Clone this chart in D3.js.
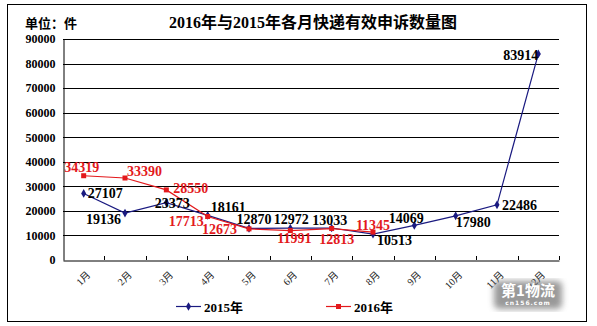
<!DOCTYPE html>
<html><head><meta charset="utf-8">
<script src="https://cdn.jsdelivr.net/npm/d3@7"></script>
<style>body{margin:0;background:#fff}svg{display:block}</style>
</head><body><svg id="c" width="597" height="326"></svg>
<script>
const months = ["1月","2月","3月","4月","5月","6月","7月","8月","9月","10月","11月","12月"];
const v2015 = [27107,19136,23373,18161,12870,12972,13033,10513,14069,17980,22486,83914];
const v2016 = [34319,33390,28550,17713,12673,11991,12813,11345];
const yTicks = [0,10000,20000,30000,40000,50000,60000,70000,80000,90000];
const seriesNames = ["2015年","2016年"];
const titleText = "2016年与2015年各月快递有效申诉数量图";
const unitText = "单位：件";
// label placement: [anchor, dx, dy]
const lab2015 = [["start",4,5],["end",-4,11],["middle",6,5],["start",3,-3],["middle",5,-4],["middle",1,-4],["middle",-2,-3],["start",4,11],["middle",-8,-2],["start",0,11],["start",5,5],["end",0,6]];
const lab2016 = [["middle",-2,-4],["start",2,-2],["start",7,3],["end",-4,9],["end",-12,5],["middle",4,12],["middle",5,15],["middle",0,-2]];

const svg = d3.select("#c");
const serif = "'Liberation Serif','Noto Sans CJK SC',serif";
const L=63, R=559, T=39, B=260;
const x = d3.scaleBand().domain(months).range([L,R]);
const y = d3.scaleLinear().domain([0,90000]).range([B,T]);
const cx = m => x(m)+x.bandwidth()/2;

svg.append("rect").attr("x",7.5).attr("y",4.5).attr("width",579).attr("height",317).attr("fill","none").attr("stroke","#000");

svg.append("text").attr("x",25).attr("y",28).attr("font-family",serif).attr("font-weight","bold").attr("font-size",13).text(unitText);
svg.append("text").attr("x",313).attr("y",28).attr("text-anchor","middle").attr("font-family",serif).attr("font-weight","bold").attr("font-size",16).text(titleText);

// gridlines
svg.append("g").selectAll("line").data(yTicks.filter(d=>d>0)).join("line")
  .attr("x1",L).attr("x2",R).attr("y1",d=>Math.round(y(d))+0.5).attr("y2",d=>Math.round(y(d))+0.5).attr("stroke","#000");
// y axis
const ya = svg.append("g").attr("transform",`translate(${L+0.5},0)`).call(d3.axisLeft(y).tickValues(yTicks).tickSize(0).tickPadding(8).tickFormat(d3.format("d")));
ya.select(".domain").attr("stroke","#000");
ya.selectAll("text").attr("font-family",serif).attr("font-weight","bold").attr("font-size",12).attr("fill","#000");
// x axis
const xa = svg.append("g").attr("transform",`translate(0,${B+0.5})`).call(d3.axisBottom(x).tickSize(0).tickFormat(""));
xa.select(".domain").attr("stroke","#000");
svg.append("g").selectAll("line").data(months.map((m,i)=>i+1)).join("line")
  .attr("x1",i=>Math.round(L+i*x.bandwidth())+0.5).attr("x2",i=>Math.round(L+i*x.bandwidth())+0.5)
  .attr("y1",B-4).attr("y2",B).attr("stroke","#000");
svg.append("g").selectAll("text").data(months).join("text")
  .attr("transform",m=>`translate(${cx(m)+5},${B+13}) rotate(-45)`)
  .attr("text-anchor","end").attr("dy","0.35em").attr("font-family",serif).attr("font-size",10).attr("fill","#222").text(d=>d);

// lines
const blue="#1a1a80", red="#e3191c";
const line = d3.line().x(d=>cx(d.m)).y(d=>y(d.v));
const d15 = v2015.map((v,i)=>({m:months[i],v}));
const d16 = v2016.map((v,i)=>({m:months[i],v}));
svg.append("path").datum(d15).attr("d",line).attr("fill","none").attr("stroke",blue).attr("stroke-width",1.2);
svg.append("path").datum(d16).attr("d",line).attr("fill","none").attr("stroke",red).attr("stroke-width",1.2);
const diamond = d3.symbol().type(d3.symbolDiamond).size(22);
svg.append("g").selectAll("path").data(d15).join("path").attr("d",diamond)
  .attr("transform",d=>`translate(${cx(d.m)},${y(d.v)})`).attr("fill",blue);
svg.append("g").selectAll("rect").data(d16).join("rect")
  .attr("x",d=>cx(d.m)-2.5).attr("y",d=>y(d.v)-2.5).attr("width",5).attr("height",5).attr("fill",red);

// labels
svg.append("g").selectAll("text").data(d15).join("text")
  .attr("x",(d,i)=>cx(d.m)+lab2015[i][1]).attr("y",(d,i)=>y(d.v)+lab2015[i][2])
  .attr("text-anchor",(d,i)=>lab2015[i][0]).attr("font-family",serif).attr("font-weight","bold").attr("font-size",14).attr("fill","#000").text(d=>d.v);
svg.append("g").selectAll("text").data(d16).join("text")
  .attr("x",(d,i)=>cx(d.m)+lab2016[i][1]).attr("y",(d,i)=>y(d.v)+lab2016[i][2])
  .attr("text-anchor",(d,i)=>lab2016[i][0]).attr("font-family",serif).attr("font-weight","bold").attr("font-size",14).attr("fill",red).text(d=>d.v);

// legend
const leg = [{n:seriesNames[0],c:blue,x:176,t:"d"},{n:seriesNames[1],c:red,x:326,t:"s"}];
leg.forEach(l=>{
  svg.append("line").attr("x1",l.x).attr("x2",l.x+25).attr("y1",306.5).attr("y2",306.5).attr("stroke",l.c).attr("stroke-width",1.2);
  if(l.t==="d") svg.append("path").attr("d",diamond).attr("transform",`translate(${l.x+12.5},306.5)`).attr("fill",l.c);
  else svg.append("rect").attr("x",l.x+10).attr("y",304).attr("width",5).attr("height",5).attr("fill",l.c);
  svg.append("text").attr("x",l.x+28).attr("y",311.5).attr("font-family",serif).attr("font-weight","bold").attr("font-size",13).text(l.n);
});

// watermark
const defs = svg.append("defs");
defs.append("filter").attr("id","bl").append("feGaussianBlur").attr("stdDeviation",3);
svg.append("rect").attr("x",494).attr("y",281).attr("width",68).attr("height",28).attr("rx",5).attr("fill","#777").attr("opacity",0.75).attr("filter","url(#bl)");
svg.append("text").attr("x",528).attr("y",296).attr("text-anchor","middle").attr("font-family","'Noto Sans CJK SC',sans-serif").attr("font-weight","bold").attr("font-size",15).attr("fill","#fff").text("第1物流");
svg.append("text").attr("x",528).attr("y",305).attr("text-anchor","middle").attr("font-family","'DejaVu Sans',sans-serif").attr("font-weight","bold").attr("font-size",6).attr("letter-spacing",1).attr("fill","#fff").text("cn156.com");
</script></body></html>
